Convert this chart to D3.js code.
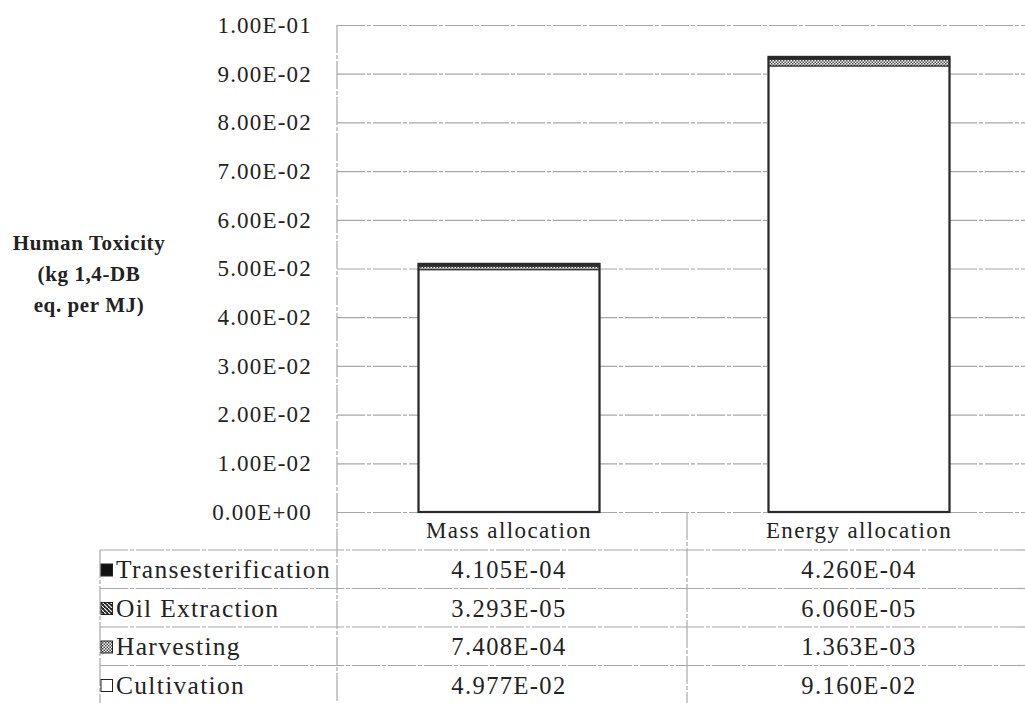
<!DOCTYPE html>
<html lang="en">
<head>
<meta charset="UTF-8">
<title>Human Toxicity</title>
<script src="https://d3js.org/d3.v7.min.js"></script>
<style>
  body { margin: 0; background: #fff; }
  svg text { font-family: 'Liberation Serif', 'Times New Roman', serif; fill: #222; }
</style>
</head>
<body>
<div id="chart"></div>
<script>
// data
const categories = ["Mass allocation", "Energy allocation"];
const stages = ["Cultivation", "Harvesting", "Oil Extraction", "Transesterification"];
const cultivation = [4.977e-2, 9.160e-2];
const harvesting = [7.408e-4, 1.363e-3];
const oilExtraction = [3.293e-5, 6.060e-5];
const transesterification = [4.105e-4, 4.260e-4];
const yTicks = [0, 0.01, 0.02, 0.03, 0.04, 0.05, 0.06, 0.07, 0.08, 0.09, 0.1];
const yTitle = ["Human Toxicity", "(kg 1,4-DB", "eq. per MJ)"];

const seriesValues = {
  "Cultivation": cultivation,
  "Harvesting": harvesting,
  "Oil Extraction": oilExtraction,
  "Transesterification": transesterification
};

const W = 1025, H = 703;
const plot = { left: 337, right: 1037, top: 25, bottom: 512 };
const rowH = 38.5;
const headerH = 38;
const legendLeft = 100;

const svg = d3.select("#chart").append("svg")
  .attr("width", W).attr("height", H);

// patterns
const defs = svg.append("defs");
const pHarv = defs.append("pattern").attr("id", "harv")
  .attr("width", 3).attr("height", 3).attr("patternUnits", "userSpaceOnUse");
pHarv.append("rect").attr("width", 3).attr("height", 3).attr("fill", "#fff");
pHarv.append("rect").attr("width", 1.5).attr("height", 1.5).attr("fill", "#444");
pHarv.append("rect").attr("x", 1.5).attr("y", 1.5).attr("width", 1.5).attr("height", 1.5).attr("fill", "#444");
const pOil = defs.append("pattern").attr("id", "oil")
  .attr("width", 4).attr("height", 4).attr("patternUnits", "userSpaceOnUse");
pOil.append("rect").attr("width", 4).attr("height", 4).attr("fill", "#222");
pOil.append("path").attr("d", "M0,0 L4,4").attr("stroke", "#fff").attr("stroke-width", 1.2);

const fills = {
  "Cultivation": "#fff",
  "Harvesting": "url(#harv)",
  "Oil Extraction": "url(#oil)",
  "Transesterification": "#111"
};

const x = d3.scaleBand().domain(categories).range([plot.left, plot.right]).paddingInner(0).paddingOuter(0);
const y = d3.scaleLinear().domain([0, 0.1]).range([plot.bottom, plot.top]);

const sci = digits => v => {
  const [m, e] = v.toExponential(digits).split("e");
  const n = +e;
  return m + "E" + (n < 0 ? "-" : "+") + String(Math.abs(n)).padStart(2, "0");
};
const fmtTick = sci(2);
const fmtVal = sci(3);

// gridlines
const grid = svg.append("g")
  .attr("transform", `translate(${plot.left},0)`)
  .call(d3.axisLeft(y).tickValues(yTicks).tickSize(-(W - plot.left)).tickFormat(""));
grid.select(".domain").remove();
grid.selectAll("line").attr("stroke", "#a8a8a8").attr("stroke-width", 1.2).attr("stroke-dasharray", "28,2,4,2");

// y axis labels
const yAxis = svg.append("g")
  .attr("transform", `translate(${plot.left},0)`)
  .call(d3.axisLeft(y).tickValues(yTicks).tickSize(0).tickPadding(25).tickFormat(fmtTick));
yAxis.select(".domain").remove();
yAxis.selectAll("text")
  .attr("font-size", 23)
  .attr("letter-spacing", 1.2)
  .attr("font-family", "'Liberation Serif', serif")
  .attr("fill", "#222");

// y title
svg.append("text")
  .attr("text-anchor", "middle")
  .attr("font-weight", "bold")
  .attr("font-size", 21)
  .attr("letter-spacing", 0.6)
  .selectAll("tspan").data(yTitle).join("tspan")
  .attr("x", 89)
  .attr("y", (d, i) => 250 + i * 31)
  .text(d => d);

// stacked bars
const stackData = categories.map((c, i) => {
  const o = { category: c };
  stages.forEach(s => o[s] = seriesValues[s][i]);
  return o;
});
const stack = d3.stack().keys(stages)(stackData);
const barW = 181;
const barX = c => x(c) + (x.bandwidth() - barW) / 2 - 3;

svg.append("g").selectAll("g").data(stack).join("g")
  .attr("fill", d => fills[d.key])
  .selectAll("rect").data(d => d).join("rect")
  .attr("x", d => barX(d.data.category))
  .attr("width", barW)
  .attr("y", d => y(d[1]))
  .attr("height", d => y(d[0]) - y(d[1]))
  .attr("stroke", "#333")
  .attr("stroke-width", 1.2);

// outline of whole bars
svg.append("g").selectAll("rect").data(stackData).join("rect")
  .attr("x", d => barX(d.category))
  .attr("width", barW)
  .attr("y", d => y(d3.sum(stages, s => d[s])))
  .attr("height", d => plot.bottom - y(d3.sum(stages, s => d[s])))
  .attr("fill", "none")
  .attr("stroke", "#2a2a2a")
  .attr("stroke-width", 2.2);

// data table
const tableLine = (x1, y1, x2, y2) => svg.append("line")
  .attr("x1", x1).attr("y1", y1).attr("x2", x2).attr("y2", y2)
  .attr("stroke", "#a8a8a8").attr("stroke-width", 1.2).attr("stroke-dasharray", "28,2,4,2");

// plot-area left line
tableLine(plot.left, plot.top, plot.left, H);
// category divider
tableLine(x(categories[1]), plot.bottom, x(categories[1]), H);
// legend column left
tableLine(legendLeft, plot.bottom + headerH, legendLeft, H);

const cellX = c => x(c) + x.bandwidth() / 2 - 3;

// header row labels
svg.append("g").selectAll("text").data(categories).join("text")
  .attr("x", d => cellX(d))
  .attr("y", plot.bottom + 26)
  .attr("text-anchor", "middle")
  .attr("font-size", 23)
  .attr("letter-spacing", 1.4)
  .text(d => d);

const tableRows = stages.slice().reverse();
const rowTop = i => plot.bottom + headerH + i * rowH;

tableRows.forEach((s, i) => {
  tableLine(legendLeft, rowTop(i), W, rowTop(i));
  // legend swatch
  svg.append("rect")
    .attr("x", 101).attr("y", rowTop(i) + 14)
    .attr("width", 11.5).attr("height", 12)
    .attr("fill", fills[s]).attr("stroke", "#222").attr("stroke-width", 1);
  svg.append("text")
    .attr("x", 116).attr("y", rowTop(i) + 28)
    .attr("font-size", 25.5)
    .attr("letter-spacing", 1.3)
    .text(s);
  categories.forEach((c, j) => {
    svg.append("text")
      .attr("x", cellX(c))
      .attr("y", rowTop(i) + 28)
      .attr("text-anchor", "middle")
      .attr("font-size", 24.5)
      .attr("letter-spacing", 1.4)
      .text(fmtVal(seriesValues[s][j]));
  });
});
</script>
</body>
</html>
